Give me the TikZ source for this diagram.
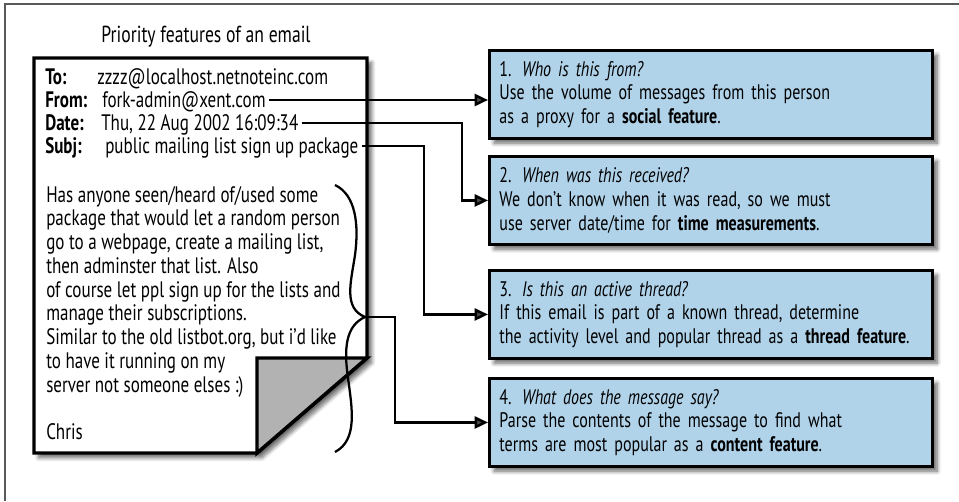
\documentclass[tikz,border=0pt]{standalone}
\usepackage{fontspec}
\setmainfont{PT Sans}[FakeStretch=0.76]
\usetikzlibrary{arrows.meta,shadows.blur,calc}
\definecolor{featblue}{RGB}{176,211,234}
\definecolor{foldgray}{RGB}{178,178,178}
\tikzset{
  txt/.style={inner sep=0pt, anchor=base west, font=\fontsize{16.8}{17.8}\selectfont},
  body/.style={inner sep=0pt, anchor=north west, align=left, font=\fontsize{16.8}{17.8}\selectfont},
  softshadow/.style={blur shadow={shadow xshift=3.5pt, shadow yshift=-3.5pt, shadow blur steps=8, shadow blur radius=3pt, shadow opacity=60}},
  featbox/.style={draw=black, line width=2.2pt, fill=featblue, anchor=north west,
    text width=317.25pt, inner xsep=7.5pt, inner ysep=0pt, minimum height=66pt, align=left,
    font=\fontsize{15.8}{17.8}\selectfont, softshadow},
  conn/.style={line width=1.9pt, -{Triangle[length=10pt,width=9pt]}},
  plain/.style={line width=1.7pt},
  docline/.style={line width=2.6pt, line join=miter},
  frameline/.style={draw=black!65, line width=0.8pt}
}
\begin{document}
\begin{tikzpicture}[x=0.75pt,y=-0.75pt]
\useasboundingbox (0,0) rectangle (959,501);
% frame
\draw[frameline] (5,501) -- (5,4) -- (959,4);
% title
\node[inner sep=0pt, font=\fontsize{17.4}{17.8}\selectfont] (title) at (206,37) {Priority features of an email};
% document
\path[docline, draw=black, fill=white, softshadow]
  (34,58) -- (367,58) -- (367,358) -- (257,453) -- (34,453) -- cycle;
\draw[docline, fill=foldgray] (257,358) -- (367,358) -- (257,453) -- cycle;
% header
\node[txt] (tolab) at (45,84) {\textbf{To:}};
\node[txt] (toval) at (97,84) {zzzz@localhost.netnoteinc.com};
\node[txt] (fromlab) at (45,107) {\textbf{From:}};
\node[txt] (fromval) at (102,107) {fork-admin@xent.com};
\node[txt] (datelab) at (45,130) {\textbf{Date:}};
\node[txt] (dateval) at (101,130) {Thu, 22 Aug 2002 16:09:34};
\node[txt] (subjlab) at (45,153) {\textbf{Subj:}};
\node[txt] (subjval) at (105,153) {public mailing list sign up package};
% body
\node[body] (bodytxt) at (46,186) {Has anyone seen/heard of/used some\\
package that would let a random person\\
go to a webpage, create a mailing list,\\
then adminster that list. Also\\
of course let ppl sign up for the lists and\\
manage their subscriptions.\\
Similar to the old listbot.org, but i’d like\\
to have it running on my\\
server not someone elses :)\\[17.8pt]
Chris};
% brace
\coordinate (tip) at (365,317);
\draw[plain] (335,185) .. controls (356,195) and (359,225) .. (355,255)
  .. controls (351,282) and (343,308) .. (tip)
  .. controls (345,326) and (344,350) .. (348,378)
  .. controls (352,408) and (358,440) .. (335,452);
% feature boxes
\node[featbox] (b1) at (488,49) {1. \textit{Who is this from?}\\
Use the volume of messages from this person\\
as a proxy for a \textbf{social feature}.};
\node[featbox] (b2) at (488,155) {2. \textit{When was this received?}\\
We don’t know when it was read, so we must\\
use server date/time for \textbf{time measurements}.};
\node[featbox] (b3) at (488,269) {3. \textit{Is this an active thread?}\\
If this email is part of a known thread, determine\\
the activity level and popular thread as a \textbf{thread feature}.};
\node[featbox] (b4) at (488,377) {4. \textit{What does the message say?}\\
Parse the contents of the message to find what\\
terms are most popular as a \textbf{content feature}.};
% connectors
\coordinate (c2) at (462,0);
\coordinate (c3) at (424,0);
\coordinate (c4) at (395,0);
\coordinate (s1) at ([shift={(3,-7)}]fromval.base east);
\coordinate (s2) at ([shift={(3,-7)}]dateval.base east);
\coordinate (s3) at ([shift={(3,-7)}]subjval.base east);
\draw[conn] (s1) -- (s1 -| b1.west);
\draw[conn] (s2) -| (c2 |- b2.west) -- (b2.west);
\draw[conn] (s3) -| (c3 |- b3.west) -- (b3.west);
\draw[conn] (tip) -| (c4 |- b4.west) -- (b4.west);
\end{tikzpicture}
\end{document}
